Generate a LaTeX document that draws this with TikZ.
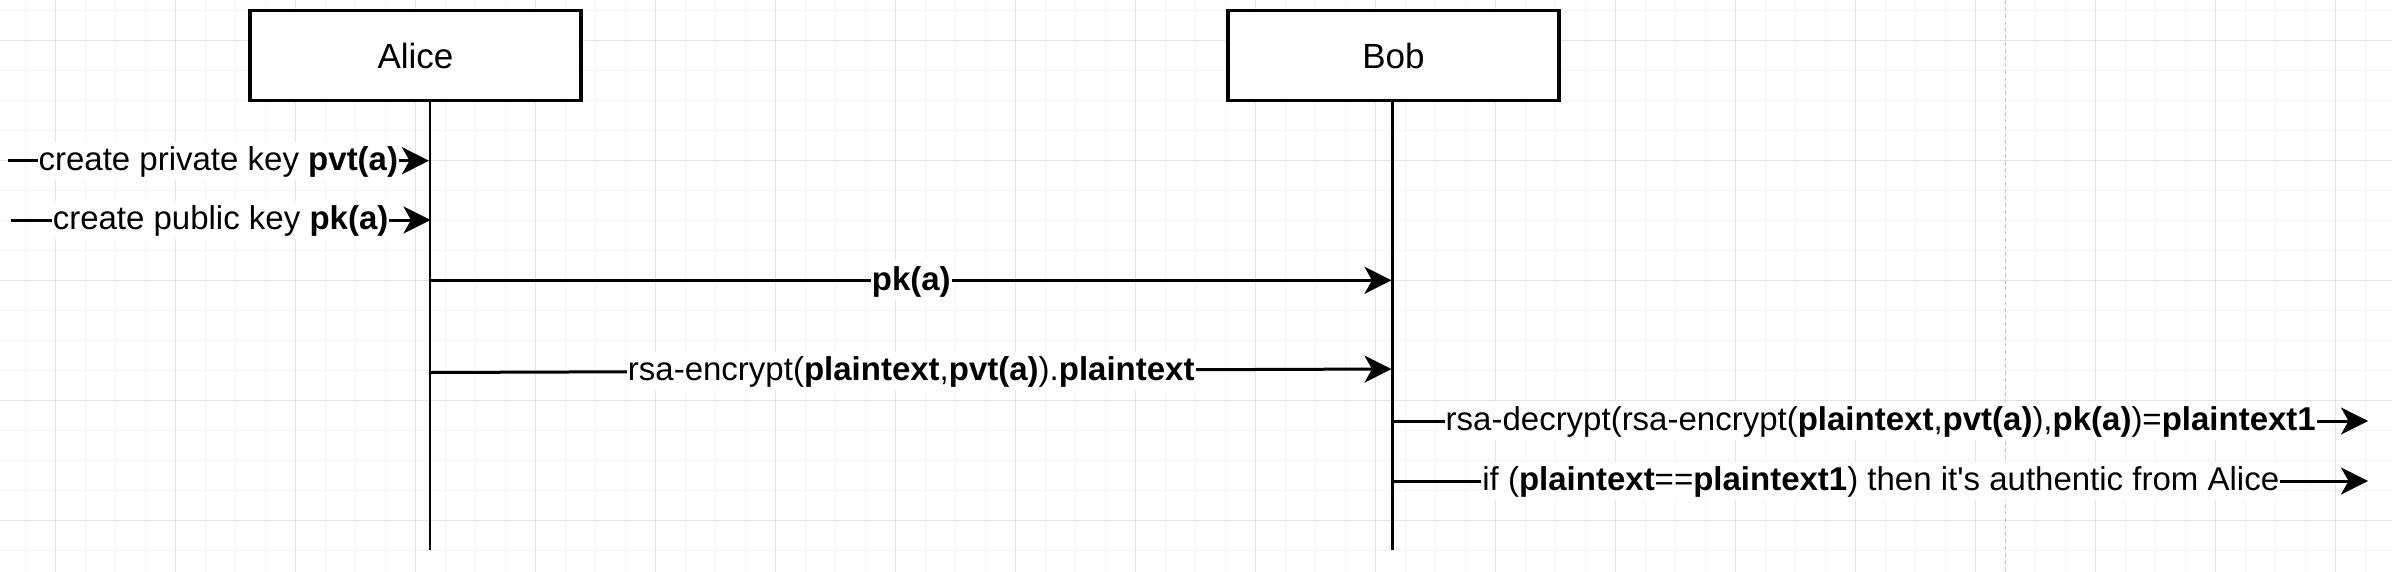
\documentclass[tikz,border=0pt]{standalone}
\usepackage{fontspec}
\newfontfamily\lsans{Liberation Sans}
\usetikzlibrary{arrows.meta}
\begin{document}
\begin{tikzpicture}[x=1pt,y=-1pt,
  actorbox/.style={draw=black, fill=white, line width=3.3pt, minimum width=331pt, minimum height=90pt, inner sep=0pt, font=\lsans\fontsize{35}{42}\selectfont, text height=25pt, text depth=0pt},
  lifeline/.style={line width=2.8pt},
  msg/.style={line width=3pt, -{Stealth[length=27pt,width=27pt,inset=7.5pt]}},
  lbl/.style={fill=white, inner xsep=1pt, inner ysep=2.5pt, font=\lsans\fontsize{33}{40}\selectfont, text height=26.4pt, text depth=6.6pt},
  gridminor/.style={draw=gray!8, line width=1pt},
  gridmajor/.style={draw=gray!22, line width=1pt},
  pagebreak/.style={draw=gray!45, line width=1pt, dash pattern=on 4pt off 3pt}]
\useasboundingbox (0,0) rectangle (2392,572);
\fill[white] (0,0) rectangle (2392,572);
% grid
\foreach \i in {0,...,79} \draw[gridminor] ({25.5+30*\i},0) -- ({25.5+30*\i},572);
\foreach \j in {0,...,18} \draw[gridminor] (0,{10.3+30*\j}) -- (2392,{10.3+30*\j});
\foreach \i in {0,...,19} \draw[gridmajor] ({55.5+120*\i},0) -- ({55.5+120*\i},572);
\foreach \j in {0,...,4} \draw[gridmajor] (0,{40.3+120*\j}) -- (2392,{40.3+120*\j});
\draw[pagebreak] (2005.5,0) -- (2005.5,572);
% lifelines
\coordinate (aTop) at (430,100.7);
\coordinate (aBot) at (430,550);
\coordinate (bTop) at (1392.5,100.7);
\coordinate (bBot) at (1392.5,550);
\draw[lifeline] (aTop) -- (aBot);
\draw[lifeline] (bTop) -- (bBot);
% actors
\node[actorbox] (alice) at (415.5,55.7) {Alice};
\node[actorbox] (bob) at (1393.5,55.7) {Bob};
% message end points
\coordinate (m1s) at (7.7,160.7);   \coordinate (m1e) at (429,160.7);
\coordinate (m2s) at (10.7,220);    \coordinate (m2e) at (430.5,220);
\coordinate (m3s) at (431,280.3);   \coordinate (m3e) at (1391.5,280.3);
\coordinate (m4s) at (431,372.5);   \coordinate (m4e) at (1391.5,369);
\coordinate (m5s) at (1393.5,421);  \coordinate (m5e) at (2368,421);
\coordinate (m6s) at (1393.5,481);  \coordinate (m6e) at (2368,481);
% messages
\draw[msg] (m1s) -- node[lbl] (l1) {create private key \textbf{pvt(a)}} (m1e);
\draw[msg] (m2s) -- node[lbl] (l2) {create public key \textbf{pk(a)}} (m2e);
\draw[msg] (m3s) -- node[lbl] (l3) {\textbf{pk(a)}} (m3e);
\draw[msg] (m4s) -- node[lbl] (l4) {rsa-encrypt(\textbf{plaintext},\textbf{pvt(a)}).\textbf{plaintext}} (m4e);
\draw[msg] (m5s) -- node[lbl] (l5) {rsa-decrypt(rsa-encrypt(\textbf{plaintext},\textbf{pvt(a)}),\textbf{pk(a)})=\textbf{plaintext1}} (m5e);
\draw[msg] (m6s) -- node[lbl] (l6) {if (\textbf{plaintext}==\textbf{plaintext1}) then it's authentic from Alice} (m6e);
\end{tikzpicture}
\end{document}
